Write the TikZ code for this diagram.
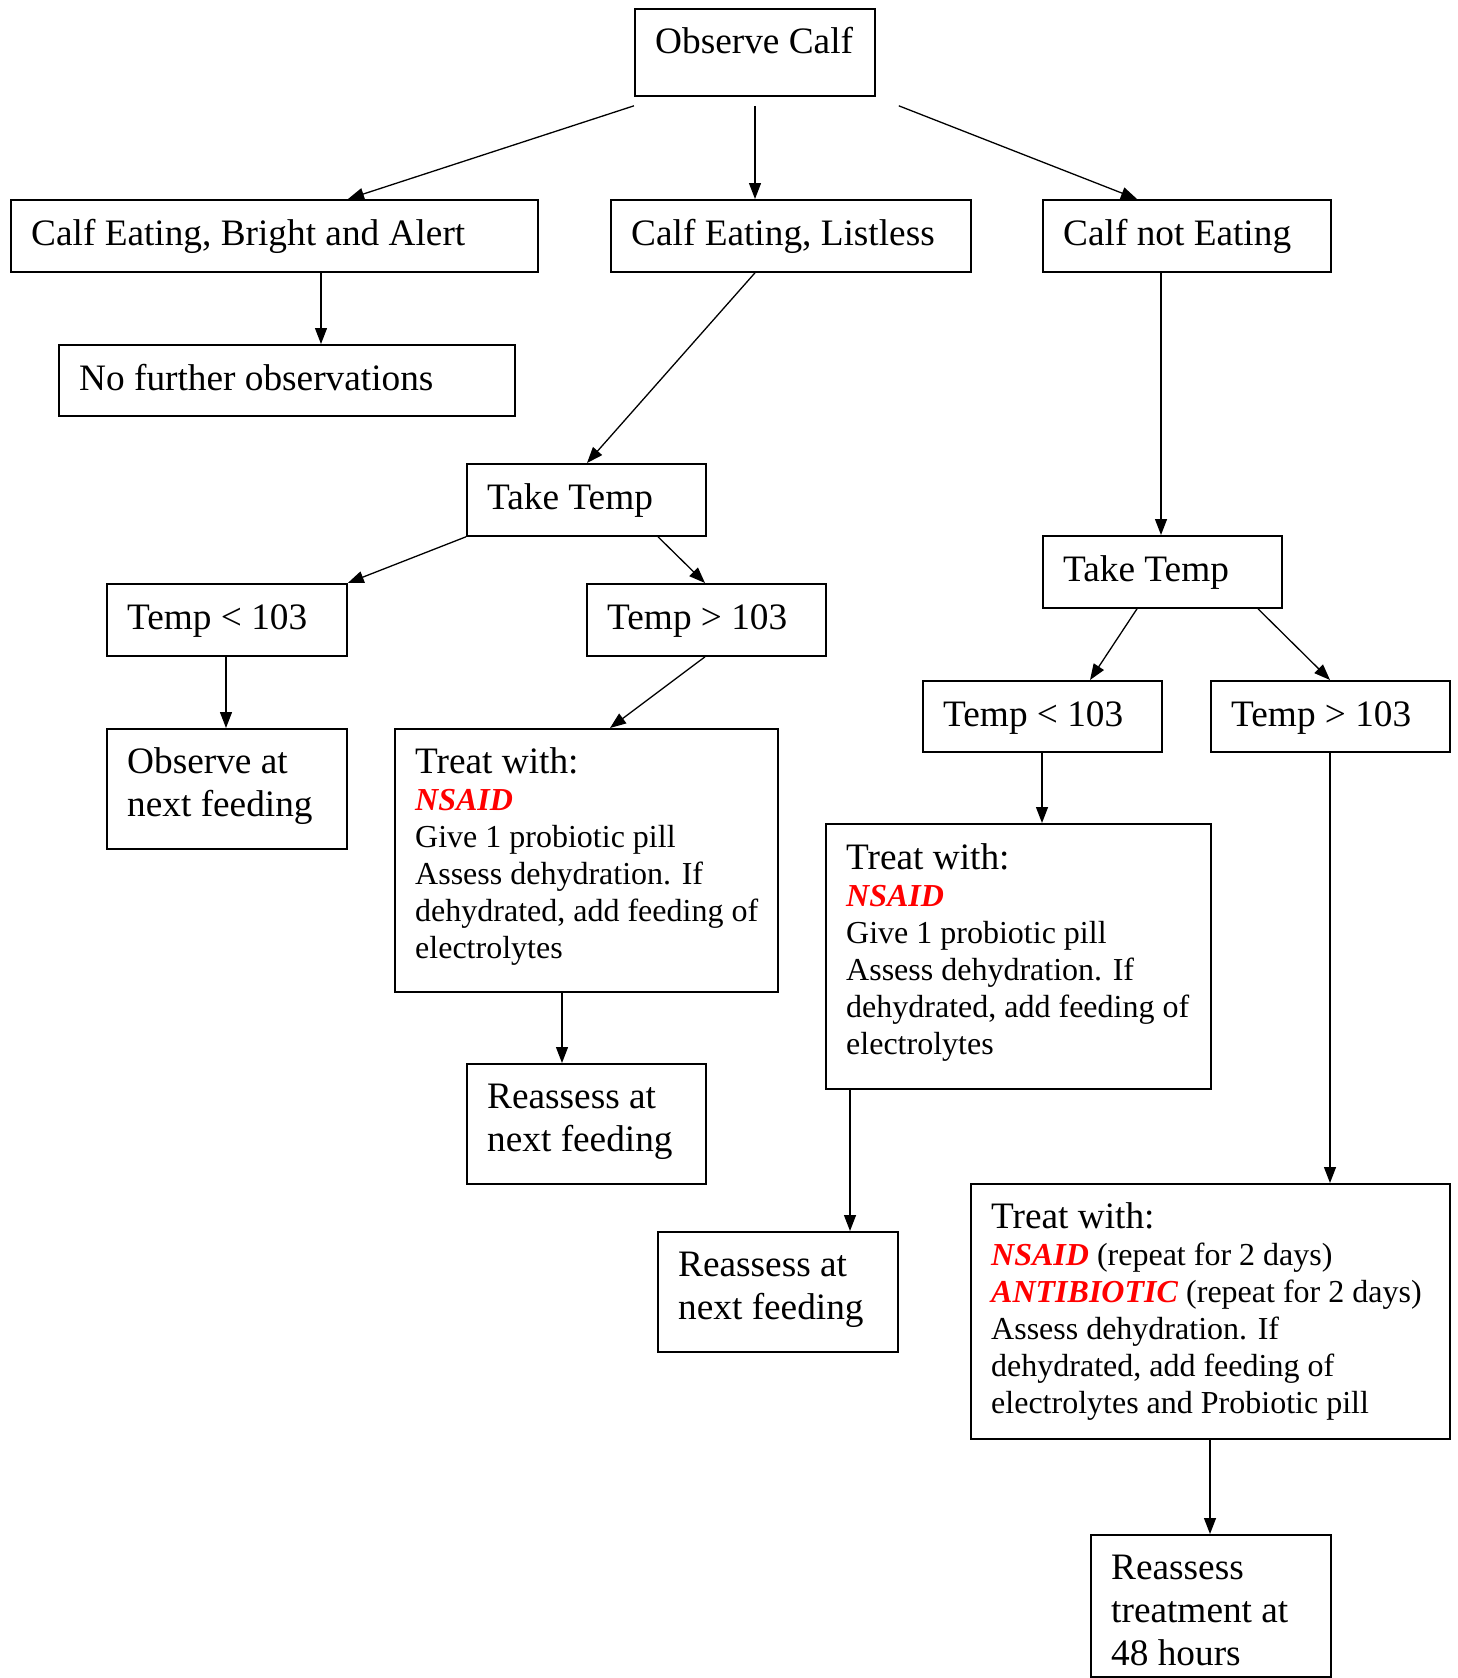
\documentclass[tikz,border=0pt]{standalone}
\usepackage{fontspec}
\setmainfont{Liberation Serif}
\usetikzlibrary{arrows.meta}
\newcommand\lgfont{\fontsize{37.3}{43}\selectfont}
\newcommand\smfont{\fontsize{32}{37}\selectfont}
\newcommand\redword[1]{\textcolor{red}{\textbf{\textit{#1}}}}
\begin{document}
\begin{tikzpicture}[x=1pt,y=-1pt,
  box/.style={draw, line width=1.8pt, anchor=north west, inner sep=0pt},
  lbl/.style={anchor=base west, inner sep=0pt},
  arr/.style={line width=1.3pt, -{Triangle[length=16pt,width=12pt]}}]
\useasboundingbox (0,0) rectangle (1457,1678);

% boxes
\node[box, minimum width=240pt, minimum height=87pt] (obs) at (634,8) {};
\node[box, minimum width=527pt, minimum height=72pt] (bright) at (10,199) {};
\node[box, minimum width=360pt, minimum height=72pt] (list) at (610,199) {};
\node[box, minimum width=288pt, minimum height=72pt] (noteat) at (1042,199) {};
\node[box, minimum width=456pt, minimum height=71pt] (nofurther) at (58,344) {};
\node[box, minimum width=239pt, minimum height=72pt] (tt1) at (466,463) {};
\node[box, minimum width=239pt, minimum height=72pt] (tt2) at (1042,535) {};
\node[box, minimum width=240pt, minimum height=72pt] (lt1) at (106,583) {};
\node[box, minimum width=239pt, minimum height=72pt] (gt1) at (586,583) {};
\node[box, minimum width=239pt, minimum height=71pt] (lt2) at (922,680) {};
\node[box, minimum width=239pt, minimum height=71pt] (gt2) at (1210,680) {};
\node[box, minimum width=240pt, minimum height=120pt] (obsnext) at (106,728) {};
\node[box, minimum width=383pt, minimum height=263pt] (treat1) at (394,728) {};
\node[box, minimum width=385pt, minimum height=265pt] (treat2) at (825,823) {};
\node[box, minimum width=239pt, minimum height=120pt] (re1) at (466,1063) {};
\node[box, minimum width=240pt, minimum height=120pt] (re2) at (657,1231) {};
\node[box, minimum width=479pt, minimum height=255pt] (treat3) at (970,1183) {};
\node[box, minimum width=240pt, minimum height=142pt] (re3) at (1090,1534) {};

% texts
\node[lbl] (obs-t) at (655,54) {\lgfont Observe Calf};
\node[lbl] (bright-t) at (31,245) {\lgfont Calf Eating, Bright and Alert};
\node[lbl] (list-t) at (631,245) {\lgfont Calf Eating, Listless};
\node[lbl] (noteat-t) at (1063,245) {\lgfont Calf not Eating};
\node[lbl] (nofurther-t) at (79,390) {\lgfont No further observations};
\node[lbl] (tt1-t) at (487,509) {\lgfont Take Temp};
\node[lbl] (tt2-t) at (1063,581) {\lgfont Take Temp};
\node[lbl] (lt1-t) at (127,629) {\lgfont Temp < 103};
\node[lbl] (gt1-t) at (607,629) {\lgfont Temp > 103};
\node[lbl] (lt2-t) at (943,726) {\lgfont Temp < 103};
\node[lbl] (gt2-t) at (1231,726) {\lgfont Temp > 103};
\node[lbl] (obsnext-t) at (127,773) {\parbox[t]{300pt}{\lgfont Observe at\\next feeding}};
\node[lbl] (treat1-t) at (415,773) {\parbox[t]{380pt}{\lgfont Treat with:\\\smfont\redword{NSAID}\\Give 1 probiotic pill\\Assess dehydration. If\\dehydrated, add feeding of\\electrolytes}};
\node[lbl] (treat2-t) at (846,869) {\parbox[t]{380pt}{\lgfont Treat with:\\\smfont\redword{NSAID}\\Give 1 probiotic pill\\Assess dehydration. If\\dehydrated, add feeding of\\electrolytes}};
\node[lbl] (re1-t) at (487,1108) {\parbox[t]{300pt}{\lgfont Reassess at\\next feeding}};
\node[lbl] (re2-t) at (678,1276) {\parbox[t]{300pt}{\lgfont Reassess at\\next feeding}};
\node[lbl] (treat3-t) at (991,1228) {\parbox[t]{480pt}{\lgfont Treat with:\\\smfont\redword{NSAID} (repeat for 2 days)\\\redword{ANTIBIOTIC} (repeat for 2 days)\\Assess dehydration. If\\dehydrated, add feeding of\\electrolytes and Probiotic pill}};
\node[lbl] (re3-t) at (1111,1579) {\parbox[t]{300pt}{\lgfont Reassess\\treatment at\\48 hours}};

% connectors
\draw[arr] ([yshift=-9pt]obs.south west) -- ([xshift=338pt]bright.north west);
\draw[arr] ([xshift=121pt,yshift=-9pt]obs.south west) -- ([xshift=145pt]list.north west);
\draw[arr] ([xshift=23pt,yshift=-9pt]obs.south east) -- ([xshift=95pt]noteat.north west);
\draw[arr] ([xshift=311pt]bright.south west) -- ([xshift=263pt]nofurther.north west);
\draw[arr] ([xshift=145pt]list.south west) -- ([xshift=121pt]tt1.north west);
\draw[arr] ([xshift=119pt]noteat.south west) -- ([xshift=119pt]tt2.north west);
\draw[arr] (tt1.south west) -- (lt1.north east);
\draw[arr] ([xshift=192pt]tt1.south west) -- ([xshift=119pt]gt1.north west);
\draw[arr] ([xshift=120pt]lt1.south west) -- ([xshift=120pt]obsnext.north west);
\draw[arr] ([xshift=119pt]gt1.south west) -- ([xshift=216pt]treat1.north west);
\draw[arr] ([xshift=95pt]tt2.south west) -- ([xshift=168pt]lt2.north west);
\draw[arr] ([xshift=216pt]tt2.south west) -- ([xshift=120pt]gt2.north west);
\draw[arr] ([xshift=120pt]lt2.south west) -- ([xshift=217pt]treat2.north west);
\draw[arr] ([xshift=120pt]gt2.south west) -- ([xshift=360pt]treat3.north west);
\draw[arr] ([xshift=168pt]treat1.south west) -- ([xshift=96pt]re1.north west);
\draw[arr] ([xshift=25pt]treat2.south west) -- ([xshift=193pt]re2.north west);
\draw[arr] ([xshift=240pt]treat3.south west) -- ([xshift=120pt]re3.north west);
\end{tikzpicture}
\end{document}
